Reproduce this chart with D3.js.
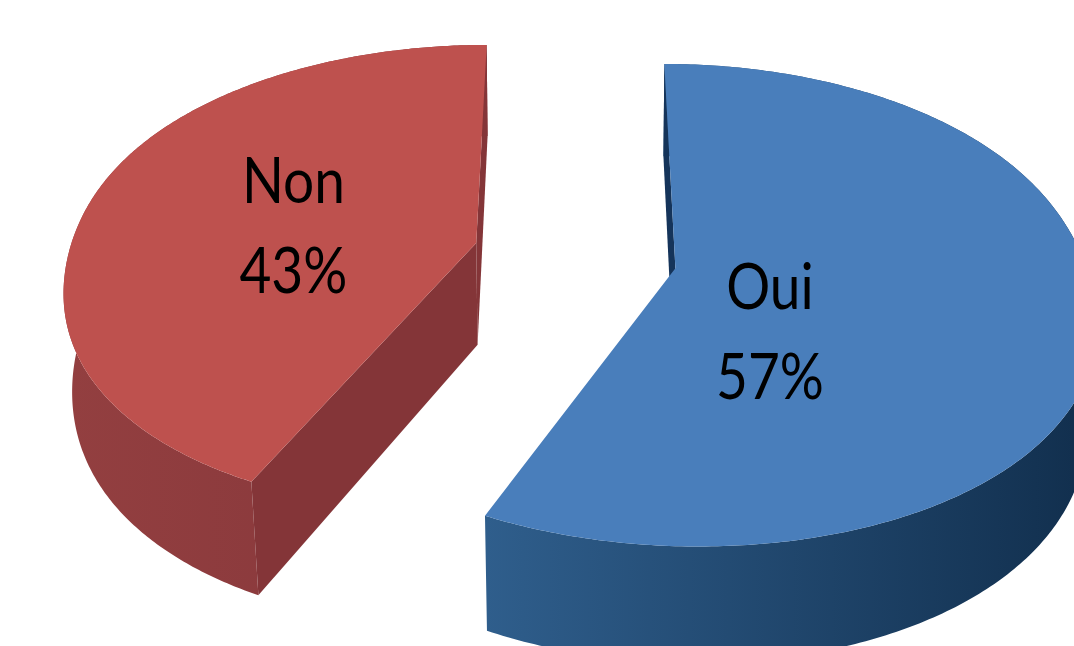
<!DOCTYPE html>
<html><head><meta charset="utf-8">
<script src="https://cdn.jsdelivr.net/npm/d3@7"></script>
<style>html,body{margin:0;padding:0;background:#fff;overflow:hidden}</style>
</head><body>
<svg id="chart" width="1074" height="646"></svg>
<script>
// ---- data ----
const categories = ["Oui", "Non"];
const values = [57, 43];
const percentLabels = ["57%", "43%"];
const topColors = ["#497EBB", "#BE514E"];
const sideColorsA = ["#2F5E8C", "#933F40"];
const sideColorsB = ["#12304F", "#85363A"];
const cutColors = ["#15345A", "#843538"];

// ---- 3D projection (perspective view of a tilted disc) ----
const W = 1074, H = 646;
const cx = 575, cy = 255.5;
const scaleX = 408;          // px per radius, horizontal
const depthY = 231.7;        // vertical px per radius of depth
const thickPx = 104;         // vertical px for slice thickness
const thickDepth = 0.10;     // extra depth of the bottom rim
const persXFront = 0.184, persXBack = 0.12, persY = 0.152;
const explode = 0.25;

function persX(t) {
  const m = (persXFront + persXBack) / 2, h = (persXFront - persXBack) / 2;
  return m - h * Math.tanh(t / 0.4);
}
// X: right, Z: away from viewer (radius units), b: 0 top / 1 bottom
function project(X, Z, b) {
  const t = Z + thickDepth * b;
  const fx = 1 + persX(t) * t;
  const fy = 1 + persY * t;
  return [cx + scaleX * X / fx, cy - (depthY * Z - thickPx * b) / fy];
}

const svg = d3.select("#chart");
const defs = svg.append("defs");

const pie = d3.pie().sort(null).startAngle(0).endAngle(2 * Math.PI);
const arcs = pie(values);
const line = d3.line();

// label spot inside each slice (angle in degrees, fraction of radius)
const labelSpots = [{a: 150, r: 0.40}, {a: 267, r: 0.45}];

arcs.forEach((d, i) => {
  const a0 = d.startAngle, a1 = d.endAngle, mid = (a0 + a1) / 2;
  const ox = explode * Math.sin(mid), oz = explode * Math.cos(mid);
  const rim = (t, b) => project(ox + Math.sin(t), oz + Math.cos(t), b);
  const ctr = b => project(ox, oz, b);
  const N = 300;
  const ts = d3.range(N + 1).map(k => a0 + (a1 - a0) * k / N);
  const g = svg.append("g");

  const topArc = ts.map(t => rim(t, 0));
  const botArc = ts.map(t => rim(t, 1));
  const xs = topArc.map(p => p[0]);

  const gid = "side" + i;
  const lg = defs.append("linearGradient").attr("id", gid)
    .attr("gradientUnits", "userSpaceOnUse")
    .attr("x1", d3.min(xs)).attr("x2", Math.min(d3.max(xs), W)).attr("y1", 0).attr("y2", 0);
  lg.append("stop").attr("offset", "0%").attr("stop-color", sideColorsA[i]);
  lg.append("stop").attr("offset", "100%").attr("stop-color", sideColorsB[i]);

  // outer cylinder wall
  const band = topArc.concat(botArc.slice().reverse());
  g.append("path").attr("d", line(band) + "Z").attr("fill", "url(#" + gid + ")");

  // radial cut faces facing the viewer
  const camZ = -6;
  [[a0, -1], [a1, 1]].forEach(([t, sgn]) => {
    const nx = sgn * Math.cos(t), nz = -sgn * Math.sin(t);
    const px = ox + 0.5 * Math.sin(t), pz = oz + 0.5 * Math.cos(t);
    if (nx * (0 - px) + nz * (camZ - pz) > 0) {
      const poly = [ctr(0), rim(t, 0), rim(t, 1), ctr(1)];
      g.append("path").attr("d", line(poly) + "Z").attr("fill", cutColors[i]);
    }
  });

  // top face
  g.append("path").attr("d", line([ctr(0)].concat(topArc)) + "Z").attr("fill", topColors[i]);

  // labels
  const s = labelSpots[i], la = s.a * Math.PI / 180;
  const [lx, ly] = project(ox + s.r * Math.sin(la), oz + s.r * Math.cos(la), 0);
  const txt = g.append("text")
    .attr("transform", `translate(${lx},${ly}) scale(0.86,1)`)
    .attr("text-anchor", "middle")
    .attr("font-family", "Lato, 'Open Sans', sans-serif")
    .attr("font-size", 64).attr("fill", "#000");
  txt.append("tspan").attr("x", 0).attr("y", -45).text(categories[i]);
  txt.append("tspan").attr("x", 0).attr("y", 45).text(percentLabels[i]);
});
</script>
</body></html>
